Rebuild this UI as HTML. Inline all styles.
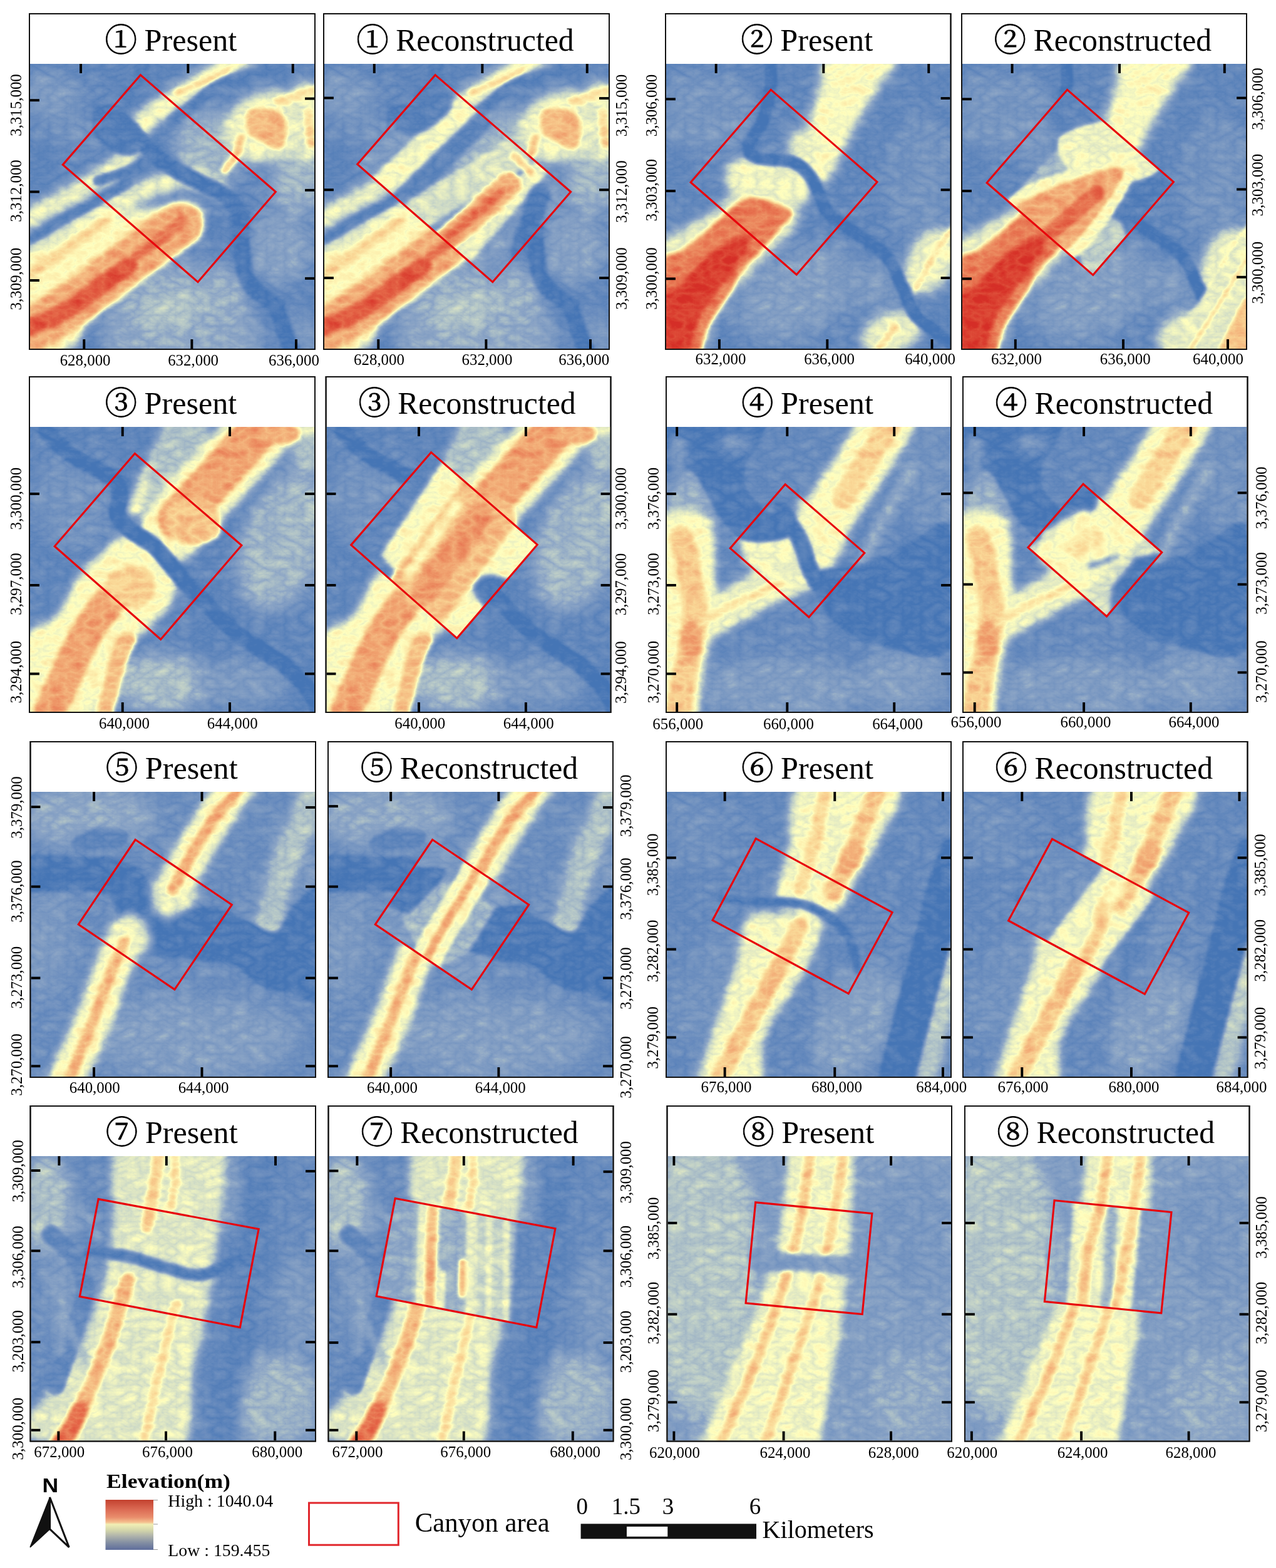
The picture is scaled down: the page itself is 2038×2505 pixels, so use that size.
<!DOCTYPE html><html><head><meta charset="utf-8"><title>Present vs Reconstructed DEM</title><style>html,body{margin:0;padding:0;background:#fff}svg{display:block}</style></head><body><svg xmlns="http://www.w3.org/2000/svg" width="2038" height="2505" viewBox="0 0 2038 2505"><defs><filter id="ramp" filterUnits="userSpaceOnUse" x="0" y="0" width="1736" height="1736" color-interpolation-filters="sRGB"><feTurbulence type="turbulence" baseFrequency="0.009 0.015" numOctaves="4" seed="3" result="t"/><feColorMatrix in="t" type="matrix" values="1 0 0 0 0  1 0 0 0 0  1 0 0 0 0  0 0 0 0 1" result="n"/><feComposite in="SourceGraphic" in2="n" operator="arithmetic" k1="0" k2="1" k3="0.16" k4="-0.0504" result="s"/><feComponentTransfer in="s"><feFuncR type="table" tableValues="0.271 0.412 0.549 0.765 1.000 0.980 0.941 0.894 0.839"/><feFuncG type="table" tableValues="0.459 0.549 0.647 0.824 1.000 0.843 0.627 0.392 0.184"/><feFuncB type="table" tableValues="0.710 0.745 0.776 0.784 0.749 0.588 0.431 0.275 0.153"/></feComponentTransfer></filter><filter id="b8" filterUnits="userSpaceOnUse" x="-700" y="-700" width="3136" height="3136" color-interpolation-filters="sRGB"><feGaussianBlur stdDeviation="8"/></filter><filter id="b10" filterUnits="userSpaceOnUse" x="-700" y="-700" width="3136" height="3136" color-interpolation-filters="sRGB"><feGaussianBlur stdDeviation="10"/></filter><filter id="b12" filterUnits="userSpaceOnUse" x="-700" y="-700" width="3136" height="3136" color-interpolation-filters="sRGB"><feGaussianBlur stdDeviation="12"/></filter><filter id="b14" filterUnits="userSpaceOnUse" x="-700" y="-700" width="3136" height="3136" color-interpolation-filters="sRGB"><feGaussianBlur stdDeviation="14"/></filter><filter id="b15" filterUnits="userSpaceOnUse" x="-700" y="-700" width="3136" height="3136" color-interpolation-filters="sRGB"><feGaussianBlur stdDeviation="15"/></filter><filter id="b18" filterUnits="userSpaceOnUse" x="-700" y="-700" width="3136" height="3136" color-interpolation-filters="sRGB"><feGaussianBlur stdDeviation="18"/></filter><filter id="b20" filterUnits="userSpaceOnUse" x="-700" y="-700" width="3136" height="3136" color-interpolation-filters="sRGB"><feGaussianBlur stdDeviation="20"/></filter><filter id="b22" filterUnits="userSpaceOnUse" x="-700" y="-700" width="3136" height="3136" color-interpolation-filters="sRGB"><feGaussianBlur stdDeviation="22"/></filter><filter id="b25" filterUnits="userSpaceOnUse" x="-700" y="-700" width="3136" height="3136" color-interpolation-filters="sRGB"><feGaussianBlur stdDeviation="25"/></filter><filter id="b30" filterUnits="userSpaceOnUse" x="-700" y="-700" width="3136" height="3136" color-interpolation-filters="sRGB"><feGaussianBlur stdDeviation="30"/></filter><filter id="b50" filterUnits="userSpaceOnUse" x="-700" y="-700" width="3136" height="3136" color-interpolation-filters="sRGB"><feGaussianBlur stdDeviation="50"/></filter><g id="m0"><g><rect x="-100" y="-100" width="1936" height="1936" fill="#1a1a1a"/></g><g filter="url(#b50)"><ellipse cx="120" cy="200" rx="220" ry="150" fill="#333333"/><ellipse cx="300" cy="420" rx="200" ry="120" fill="#292929"/><ellipse cx="1100" cy="500" rx="230" ry="230" fill="#4c4c4c"/><path d="M560 1300 C643 1200 885 1208 1000 1200 C1115 1192 1192 1200 1250 1250 C1308 1300 1333 1408 1350 1500 C1367 1592 1492 1750 1350 1800 C1208 1850 632 1883 500 1800 C368 1717 477 1400 560 1300Z" fill="#424242"/><ellipse cx="850" cy="1500" rx="200" ry="120" fill="#575757" transform="rotate(-20 850 1500)"/><ellipse cx="1150" cy="1420" rx="150" ry="90" fill="#4c4c4c" transform="rotate(-20 1150 1420)"/><ellipse cx="1530" cy="1120" rx="190" ry="230" fill="#3d3d3d"/><ellipse cx="1650" cy="1650" rx="150" ry="150" fill="#333333"/><ellipse cx="1650" cy="700" rx="200" ry="200" fill="#4c4c4c"/></g><g filter="url(#b30)"><path d="M640 420 C653 405 682 362 720 330 C758 298 819 257 866 225 C913 193 953 169 1000 140 C1047 111 1100 80 1150 50 C1200 20 1275 -25 1300 -40" fill="none" stroke="#808080" stroke-width="130" stroke-linecap="round" stroke-linejoin="round"/><ellipse cx="1450" cy="380" rx="280" ry="220" fill="#757575" transform="rotate(-20 1450 380)"/><ellipse cx="1680" cy="350" rx="120" ry="260" fill="#707070"/><path d="M-40 960 C0 938 134 866 200 830 C266 794 300 776 356 742 C412 708 485 669 534 624 C583 579 631 496 650 470" fill="none" stroke="#787878" stroke-width="130" stroke-linecap="round" stroke-linejoin="round"/><path d="M-40 1200 C8 1170 160 1075 250 1020 C340 965 408 918 500 870 C592 822 717 758 800 730 C883 702 942 695 1000 700 C1058 705 1125 750 1150 760" fill="none" stroke="#757575" stroke-width="130" stroke-linecap="round" stroke-linejoin="round"/><path d="M-60 1230 C-17 1113 111 1147 200 1100 C289 1053 392 987 475 950 C558 913 629 895 700 880 C771 865 842 860 900 860 C958 860 1033 848 1050 880 C1067 912 1042 1005 1000 1050 C958 1095 867 1108 800 1150 C733 1192 667 1245 600 1300 C533 1355 458 1407 400 1480 C342 1553 327 1683 250 1736 C173 1789 -8 1884 -60 1800 C-112 1716 -103 1347 -60 1230Z" fill="#858585"/></g><g filter="url(#b18)"><path d="M-60 1660 C-15 1633 124 1555 208 1500 C292 1445 371 1385 445 1330 C519 1275 589 1218 653 1170 C717 1122 786 1072 831 1040 C876 1008 905 990 920 980" fill="none" stroke="#b8b8b8" stroke-width="280" stroke-linecap="round" stroke-linejoin="round"/><path d="M0 1276 C33 1253 121 1194 200 1140 C279 1086 429 982 475 950" fill="none" stroke="#a3a3a3" stroke-width="60" stroke-linecap="round" stroke-linejoin="round"/></g><g filter="url(#b12)"><path d="M-40 1620 C1 1602 127 1556 208 1510 C289 1464 380 1392 445 1345 C510 1298 574 1249 600 1230" fill="none" stroke="#e6e6e6" stroke-width="110" stroke-linecap="round" stroke-linejoin="round"/><path d="M650 1170 C680 1148 783 1077 830 1040 C877 1003 913 965 930 950" fill="none" stroke="#d6d6d6" stroke-width="70" stroke-linecap="round" stroke-linejoin="round"/><path d="M1330 290 C1350 265 1412 263 1450 270 C1488 277 1542 297 1560 330 C1578 363 1570 438 1560 470 C1550 502 1523 518 1500 520 C1477 522 1448 497 1420 480 C1392 463 1345 452 1330 420 C1315 388 1310 315 1330 290Z" fill="#b2b2b2"/><path d="M1290 450 C1285 467 1277 517 1260 550 C1243 583 1202 633 1190 650" fill="none" stroke="#a8a8a8" stroke-width="50" stroke-linecap="round" stroke-linejoin="round"/><path d="M900 180 C925 168 1000 133 1050 110 C1100 87 1175 52 1200 40" fill="none" stroke="#999999" stroke-width="40" stroke-linecap="round" stroke-linejoin="round"/><path d="M1520 230 L1736 160" fill="none" stroke="#999999" stroke-width="60" stroke-linecap="round" stroke-linejoin="round"/><path d="M1700 300 L1720 480" fill="none" stroke="#9e9e9e" stroke-width="60" stroke-linecap="round" stroke-linejoin="round"/></g><g filter="url(#b10)"><path d="M470 300 C488 313 545 352 580 380 C615 408 647 438 680 470 C713 502 747 542 780 570 C813 598 835 613 880 640 C925 667 997 702 1050 730 C1103 758 1162 778 1200 810 C1238 842 1265 872 1280 920 C1295 968 1283 1037 1290 1100 C1297 1163 1302 1250 1320 1300 C1338 1350 1370 1370 1400 1400 C1430 1430 1473 1438 1500 1480 C1527 1522 1540 1597 1560 1650 C1580 1703 1610 1775 1620 1800" fill="none" stroke="#080808" stroke-width="100" stroke-linecap="round" stroke-linejoin="round"/><path d="M430 250 C473 245 595 312 640 350 C685 388 707 445 700 480 C693 515 642 557 600 560 C558 563 487 530 450 500 C413 470 383 422 380 380 C377 338 387 255 430 250Z" fill="#0f0f0f"/><path d="M0 1069 C33 1049 131 990 200 950 C269 910 348 869 415 831 C482 793 569 738 600 720" fill="none" stroke="#141414" stroke-width="60" stroke-linecap="round" stroke-linejoin="round"/><path d="M415 713 C445 703 546 673 593 654 C640 635 682 609 700 600" fill="none" stroke="#121212" stroke-width="60" stroke-linecap="round" stroke-linejoin="round"/><path d="M866 350 C888 333 950 288 1000 250 C1050 212 1097 158 1166 125 C1235 92 1360 68 1416 50 C1472 32 1486 25 1500 20" fill="none" stroke="#141414" stroke-width="70" stroke-linecap="round" stroke-linejoin="round"/><path d="M700 0 C692 17 667 67 650 100 C633 133 608 183 600 200" fill="none" stroke="#121212" stroke-width="70" stroke-linecap="round" stroke-linejoin="round"/></g></g><g id="m0r"><g><rect x="-100" y="-100" width="1936" height="1936" fill="#333333"/></g><g filter="url(#b20)"><ellipse cx="1000" cy="500" rx="250" ry="150" fill="#4c4c4c" transform="rotate(-40 1000 500)"/></g><g filter="url(#b12)"><path d="M870 250 C864 257 914 213 832 291 C750 369 470 634 381 719 C292 804 314 786 300 800" fill="none" stroke="#7a7a7a" stroke-width="160" stroke-linecap="round" stroke-linejoin="round"/><path d="M1000 320 C992 327 1038 280 951 363 C864 446 568 732 476 821 C384 910 413 887 400 900" fill="none" stroke="#171717" stroke-width="120" stroke-linecap="round" stroke-linejoin="round"/><path d="M1160 540 C1152 547 1203 524 1109 584 C1015 644 696 831 595 900 C494 969 516 983 500 1000" fill="none" stroke="#6b6b6b" stroke-width="200" stroke-linecap="round" stroke-linejoin="round"/><path d="M1350 600 C1342 608 1378 560 1300 650 C1222 740 960 1048 880 1140 C800 1232 830 1190 820 1200" fill="none" stroke="#757575" stroke-width="110" stroke-linecap="round" stroke-linejoin="round"/><path d="M1120 740 C1115 745 1153 713 1090 770 C1027 827 808 1020 740 1080 C672 1140 690 1122 680 1130" fill="none" stroke="#b8b8b8" stroke-width="150" stroke-linecap="round" stroke-linejoin="round"/><path d="M1070 790 L760 1060" fill="none" stroke="#dbdbdb" stroke-width="60" stroke-linecap="round" stroke-linejoin="round"/><path d="M1320 800 C1317 805 1315 788 1300 830 C1285 872 1247 997 1230 1050 C1213 1103 1205 1133 1200 1150" fill="none" stroke="#0a0a0a" stroke-width="130" stroke-linecap="round" stroke-linejoin="round"/><path d="M1160 560 L1260 660" fill="none" stroke="#a3a3a3" stroke-width="50" stroke-linecap="round" stroke-linejoin="round"/><path d="M640 60 C703 47 793 188 780 250 C767 312 623 417 560 430 C497 443 387 392 400 330 C413 268 577 73 640 60Z" fill="#141414"/></g></g><g id="m1"><g><rect x="-100" y="-100" width="1936" height="1936" fill="#1c1c1c"/></g><g filter="url(#b50)"><ellipse cx="250" cy="300" rx="300" ry="250" fill="#2e2e2e"/><ellipse cx="1550" cy="700" rx="200" ry="400" fill="#2b2b2b"/><ellipse cx="800" cy="1400" rx="400" ry="250" fill="#383838" transform="rotate(-30 800 1400)"/><ellipse cx="1250" cy="1350" rx="200" ry="150" fill="#333333"/></g><g filter="url(#b30)"><path d="M993 -50 C1071 -83 1349 -83 1400 -50 C1451 -17 1342 75 1300 150 C1258 225 1192 325 1150 400 C1108 475 1082 543 1050 600 C1018 657 988 732 960 740 C932 748 897 707 880 650 C863 593 852 483 860 400 C868 317 908 225 930 150 C952 75 915 -17 993 -50Z" fill="#808080"/><path d="M760 420 C783 390 867 390 900 420 C933 450 963 553 960 600 C957 647 913 700 880 700 C847 700 780 647 760 600 C740 553 737 450 760 420Z" fill="#787878"/><path d="M388 600 C432 560 573 545 650 560 C727 575 812 647 850 690 C888 733 895 785 880 820 C865 855 815 890 760 900 C705 910 612 897 550 880 C488 863 415 847 388 800 C361 753 344 640 388 600Z" fill="#787878"/><path d="M-50 1150 C-25 1017 45 1042 100 1000 C155 958 222 933 278 900 C334 867 351 807 433 800 C515 793 708 830 769 860 C830 890 820 932 800 980 C780 1028 708 1088 650 1150 C592 1212 508 1283 450 1350 C392 1417 345 1475 300 1550 C255 1625 238 1758 180 1800 C122 1842 -12 1908 -50 1800 C-88 1692 -75 1283 -50 1150Z" fill="#737373"/><ellipse cx="1620" cy="1200" rx="150" ry="220" fill="#757575" transform="rotate(30 1620 1200)"/><ellipse cx="1380" cy="1640" rx="200" ry="130" fill="#757575" transform="rotate(-20 1380 1640)"/></g><g filter="url(#b15)"><path d="M-50 1250 C-25 1138 45 1173 100 1130 C155 1087 222 1037 278 990 C334 943 385 878 433 850 C481 822 512 812 568 820 C624 828 747 870 769 900 C791 930 728 963 700 1000 C672 1037 638 1077 600 1120 C562 1163 505 1213 470 1260 C435 1307 423 1343 388 1400 C353 1457 295 1533 260 1600 C225 1667 232 1767 180 1800 C128 1833 -12 1892 -50 1800 C-88 1708 -75 1362 -50 1250Z" fill="#d1d1d1"/><path d="M-50 1450 C-25 1372 50 1377 100 1330 C150 1283 195 1215 250 1170 C305 1125 385 1078 430 1060 C475 1042 522 1028 520 1060 C518 1092 457 1193 420 1250 C383 1307 337 1348 300 1400 C263 1452 233 1493 200 1560 C167 1627 142 1760 100 1800 C58 1840 -25 1858 -50 1800 C-75 1742 -75 1528 -50 1450Z" fill="#f7f7f7"/><path d="M1520 1380 C1542 1342 1612 1213 1650 1150 C1688 1087 1733 1025 1750 1000" fill="none" stroke="#9e9e9e" stroke-width="30" stroke-linecap="round" stroke-linejoin="round"/><path d="M1300 1736 L1400 1600" fill="none" stroke="#9e9e9e" stroke-width="40" stroke-linecap="round" stroke-linejoin="round"/></g><g filter="url(#b8)"><path d="M640 -20 C640 0 641 70 640 100 C639 130 643 118 635 159 C627 200 612 291 590 349 C568 407 504 468 500 506 C496 544 523 559 568 574 C613 589 717 577 769 596 C821 615 851 648 881 686 C911 724 929 784 948 821 C967 858 956 873 993 910 C1030 947 1112 999 1172 1044 C1232 1089 1306 1126 1351 1178 C1396 1230 1411 1298 1441 1358 C1471 1418 1482 1481 1530 1537 C1578 1593 1687 1657 1732 1694 C1777 1731 1789 1749 1800 1760" fill="none" stroke="#050505" stroke-width="75" stroke-linecap="round" stroke-linejoin="round"/></g></g><g id="m1r"><g><rect x="-100" y="-100" width="1936" height="1936" fill="#1a1a1a"/></g><g filter="url(#b30)"><ellipse cx="420" cy="450" rx="150" ry="200" fill="#2e2e2e" transform="rotate(-40 420 450)"/></g><g filter="url(#b10)"><path d="M640 455 L320 790 L430 930 L820 700Z" fill="#4c4c4c"/><path d="M600 440 C667 375 1017 300 1120 330 C1223 360 1240 553 1220 620 C1200 687 1083 713 1000 730 C917 747 787 768 720 720 C653 672 533 505 600 440Z" fill="#787878"/><path d="M700 1040 C725 978 897 920 950 950 C1003 980 1045 1158 1020 1220 C995 1282 853 1350 800 1320 C747 1290 675 1102 700 1040Z" fill="#5c5c5c"/><path d="M360 760 C468 693 783 607 900 590 C1017 573 1077 578 1060 660 C1043 742 883 987 800 1080 C717 1173 652 1235 560 1220 C468 1205 283 1067 250 990 C217 913 252 827 360 760Z" fill="#808080"/><path d="M409 816 C508 763 776 666 872 644 C968 622 1005 618 984 681 C963 744 816 947 745 1025 C674 1103 638 1161 560 1150 C482 1139 305 1016 280 960 C255 904 310 869 409 816Z" fill="#b8b8b8"/><path d="M470 1090 L820 790" fill="none" stroke="#dbdbdb" stroke-width="100" stroke-linecap="round" stroke-linejoin="round"/><path d="M1036 778 L954 943 L1200 1020 L1330 730 L1150 690Z" fill="#0f0f0f"/></g></g><g id="m2"><g><rect x="-100" y="-100" width="1936" height="1936" fill="#1a1a1a"/></g><g filter="url(#b50)"><ellipse cx="1550" cy="700" rx="260" ry="450" fill="#4c4c4c" transform="rotate(20 1550 700)"/><ellipse cx="250" cy="450" rx="250" ry="300" fill="#2b2b2b"/><ellipse cx="800" cy="1560" rx="320" ry="180" fill="#525252"/><ellipse cx="1300" cy="1560" rx="300" ry="150" fill="#333333"/><ellipse cx="1690" cy="120" rx="120" ry="150" fill="#595959"/></g><g filter="url(#b25)"><path d="M640 500 C650 475 677 403 700 350 C723 297 752 242 780 180 C808 118 855 13 870 -20" fill="none" stroke="#808080" stroke-width="90" stroke-linecap="round" stroke-linejoin="round"/><path d="M700 420 C700 330 783 53 850 -20 C917 -93 1083 -82 1100 -20 C1117 42 992 260 950 350 C908 440 892 508 850 520 C808 532 700 510 700 420Z" fill="#545454"/><path d="M870 620 C902 583 988 480 1060 400 C1132 320 1233 217 1300 140 C1367 63 1433 -27 1460 -60" fill="none" stroke="#808080" stroke-width="400" stroke-linecap="round" stroke-linejoin="round"/><path d="M1450 -40 L1750 -40" fill="none" stroke="#737373" stroke-width="200" stroke-linecap="round" stroke-linejoin="round"/><path d="M-50 1300 C-17 1192 92 1217 150 1150 C208 1083 250 967 300 900 C350 833 400 792 450 750 C500 708 542 645 600 650 C658 655 750 730 800 780 C850 830 892 897 900 950 C908 1003 883 1050 850 1100 C817 1150 750 1200 700 1250 C650 1300 592 1342 550 1400 C508 1458 483 1533 450 1600 C417 1667 433 1767 350 1800 C267 1833 17 1883 -50 1800 C-117 1717 -83 1408 -50 1300Z" fill="#808080"/></g><g filter="url(#b15)"><path d="M900 560 C928 530 1005 450 1070 380 C1135 310 1228 208 1290 140 C1352 72 1415 -2 1440 -30" fill="none" stroke="#bdbdbd" stroke-width="250" stroke-linecap="round" stroke-linejoin="round"/><ellipse cx="1520" cy="40" rx="130" ry="70" fill="#b8b8b8"/><path d="M860 470 C900 437 1050 430 1100 460 C1150 490 1177 607 1160 650 C1143 693 1050 718 1000 720 C950 722 883 702 860 660 C837 618 820 503 860 470Z" fill="#a8a8a8"/><path d="M120 1736 C142 1688 212 1531 250 1450 C288 1369 313 1312 350 1250 C387 1188 450 1108 470 1080" fill="none" stroke="#bdbdbd" stroke-width="200" stroke-linecap="round" stroke-linejoin="round"/><path d="M440 1800 C455 1742 505 1533 530 1450 C555 1367 580 1325 590 1300" fill="none" stroke="#adadad" stroke-width="110" stroke-linecap="round" stroke-linejoin="round"/><path d="M480 900 C513 865 653 833 700 850 C747 867 767 957 760 1000 C753 1043 703 1100 660 1110 C617 1120 530 1095 500 1060 C470 1025 447 935 480 900Z" fill="#a3a3a3"/></g><g filter="url(#b8)"><path d="M100 30 C125 53 200 133 250 170 C300 207 355 223 400 250 C445 277 495 302 520 330 C545 358 548 388 550 420 C552 452 522 487 530 520 C538 553 563 587 600 620 C637 653 708 685 750 720 C792 755 817 792 850 830 C883 868 917 913 950 950 C983 987 1017 1017 1050 1050 C1083 1083 1117 1117 1150 1150 C1183 1183 1208 1217 1250 1250 C1292 1283 1350 1317 1400 1350 C1450 1383 1500 1408 1550 1450 C1600 1492 1665 1555 1700 1600 C1735 1645 1750 1700 1760 1720" fill="none" stroke="#050505" stroke-width="100" stroke-linecap="round" stroke-linejoin="round"/></g></g><g id="m2r"><g><rect x="-100" y="-100" width="1936" height="1936" fill="#1a1a1a"/></g><g filter="url(#b15)"><path d="M740 160 L1320 700 L800 1320 L330 780Z" fill="#808080"/><path d="M560 1050 L990 470" fill="none" stroke="#adadad" stroke-width="420" stroke-linecap="round" stroke-linejoin="round"/><path d="M600 1000 L940 540" fill="none" stroke="#c2c2c2" stroke-width="160" stroke-linecap="round" stroke-linejoin="round"/><path d="M500 900 L800 470" fill="none" stroke="#858585" stroke-width="60" stroke-linecap="round" stroke-linejoin="round"/><path d="M900 1000 C892 958 950 900 1000 900 C1050 900 1192 958 1200 1000 C1208 1042 1100 1150 1050 1150 C1000 1150 908 1042 900 1000Z" fill="#0d0d0d"/></g></g><g id="m3"><g><rect x="-100" y="-100" width="1936" height="1936" fill="#1f1f1f"/></g><g filter="url(#b50)"><ellipse cx="1600" cy="300" rx="200" ry="350" fill="#2b2b2b"/><ellipse cx="700" cy="1600" rx="500" ry="200" fill="#363636"/><ellipse cx="1450" cy="1550" rx="280" ry="200" fill="#383838"/><ellipse cx="150" cy="500" rx="150" ry="250" fill="#474747"/></g><g filter="url(#b25)"><path d="M840 760 C867 720 940 610 1000 520 C1060 430 1140 313 1200 220 C1260 127 1333 3 1360 -40" fill="none" stroke="#808080" stroke-width="330" stroke-linecap="round" stroke-linejoin="round"/><path d="M450 650 C483 612 642 612 700 620 C758 628 775 653 800 700 C825 747 850 850 850 900 C850 950 833 992 800 1000 C767 1008 700 975 650 950 C600 925 533 900 500 850 C467 800 417 688 450 650Z" fill="#7a7a7a"/><path d="M800 450 C817 417 900 467 950 500 C1000 533 1083 600 1100 650 C1117 700 1075 767 1050 800 C1025 833 983 867 950 850 C917 833 875 767 850 700 C825 633 783 483 800 450Z" fill="#808080"/><path d="M-50 550 C0 442 192 508 250 550 C308 592 300 725 300 800 C300 875 275 933 250 1000 C225 1067 200 1167 150 1200 C100 1233 -17 1308 -50 1200 C-83 1092 -100 658 -50 550Z" fill="#6b6b6b"/><path d="M150 1250 C183 1228 283 1160 350 1120 C417 1080 483 1043 550 1010 C617 977 692 943 750 920 C808 897 875 878 900 870" fill="none" stroke="#787878" stroke-width="230" stroke-linecap="round" stroke-linejoin="round"/><path d="M40 1800 C47 1750 65 1600 80 1500 C95 1400 118 1300 130 1200 C142 1100 152 992 150 900 C148 808 125 692 120 650" fill="none" stroke="#808080" stroke-width="300" stroke-linecap="round" stroke-linejoin="round"/><path d="M-50 650 C-17 562 98 612 150 620 C202 628 242 637 260 700 C278 763 265 925 255 1000 C245 1075 251 1125 200 1150 C149 1175 -8 1233 -50 1150 C-92 1067 -83 738 -50 650Z" fill="#808080"/><path d="M1124 993 C1145 944 1205 793 1250 700 C1295 607 1350 508 1392 433 C1434 358 1482 280 1500 250" fill="none" stroke="#4c4c4c" stroke-width="60" stroke-linecap="round" stroke-linejoin="round"/></g><g filter="url(#b15)"><path d="M1080 430 C1105 392 1182 275 1230 200 C1278 125 1347 17 1370 -20" fill="none" stroke="#a1a1a1" stroke-width="140" stroke-linecap="round" stroke-linejoin="round"/><path d="M60 1760 C68 1717 95 1577 110 1500 C125 1423 140 1367 150 1300 C160 1233 173 1175 170 1100 C167 1025 143 920 130 850 C117 780 97 708 90 680" fill="none" stroke="#a8a8a8" stroke-width="150" stroke-linecap="round" stroke-linejoin="round"/><ellipse cx="150" cy="1300" rx="70" ry="120" fill="#bdbdbd"/><path d="M200 1200 C225 1185 300 1137 350 1110 C400 1083 442 1067 500 1040 C558 1013 667 965 700 950" fill="none" stroke="#999999" stroke-width="45" stroke-linecap="round" stroke-linejoin="round"/></g><g filter="url(#b10)"><path d="M-50 -50 C52 -102 458 -75 560 -50 C662 -25 573 50 560 100 C547 150 490 200 480 250 C470 300 477 355 500 400 C523 445 577 493 620 520 C663 547 737 537 760 560 C783 583 787 637 760 660 C733 683 652 697 600 700 C548 703 495 703 450 680 C405 657 363 603 330 560 C297 517 275 463 250 420 C225 377 205 328 180 300 C155 272 138 257 100 250 C62 243 -25 310 -50 260 C-75 210 -152 2 -50 -50Z" fill="#080808"/><path d="M700 500 C710 517 740 567 760 600 C780 633 802 658 820 700 C838 742 853 808 870 850 C887 892 898 917 920 950 C942 983 987 1033 1000 1050" fill="none" stroke="#080808" stroke-width="100" stroke-linecap="round" stroke-linejoin="round"/><path d="M900 900 C925 858 1033 867 1100 850 C1167 833 1233 825 1300 800 C1367 775 1427 730 1500 700 C1573 670 1697 512 1736 620 C1775 728 1809 1232 1736 1350 C1663 1468 1406 1347 1300 1330 C1194 1313 1158 1288 1100 1250 C1042 1212 983 1158 950 1100 C917 1042 875 942 900 900Z" fill="#080808"/></g><g filter="url(#b30)"><ellipse cx="70" cy="170" rx="60" ry="110" fill="#333333"/><ellipse cx="420" cy="100" rx="120" ry="60" fill="#2b2b2b"/></g></g><g id="m3r"><g><rect x="-100" y="-100" width="1936" height="1936" fill="#6b6b6b"/></g><g filter="url(#b14)"><path d="M450 1000 L1050 480" fill="none" stroke="#808080" stroke-width="380" stroke-linecap="round" stroke-linejoin="round"/><ellipse cx="740" cy="700" rx="130" ry="70" fill="#949494" transform="rotate(-35 740 700)"/><path d="M725 330 C800 277 809 390 820 420 C831 450 810 495 790 510 C770 525 748 490 700 510 C652 530 538 602 500 630 C462 658 491 657 469 675 C447 693 327 798 370 740 C413 682 650 383 725 330Z" fill="#080808"/><path d="M909 983 L1052 800 L1260 760 L1100 1000 L900 1220Z" fill="#080808"/><path d="M777 846 L938 795" fill="none" stroke="#2e2e2e" stroke-width="30" stroke-linecap="round" stroke-linejoin="round"/></g></g><g id="m4"><g><rect x="-100" y="-100" width="1936" height="1936" fill="#242424"/></g><g filter="url(#b50)"><ellipse cx="350" cy="150" rx="420" ry="200" fill="#424242"/><ellipse cx="100" cy="900" rx="150" ry="350" fill="#333333"/><ellipse cx="1000" cy="1500" rx="650" ry="250" fill="#383838"/><ellipse cx="1600" cy="350" rx="150" ry="250" fill="#333333"/></g><g filter="url(#b25)"><path d="M1420 980 C1436 909 1476 680 1514 553 C1552 426 1615 309 1649 217 C1683 125 1708 36 1720 0" fill="none" stroke="#575757" stroke-width="170" stroke-linecap="round" stroke-linejoin="round"/></g><g filter="url(#b10)"><path d="M-50 400 C8 366 211 396 300 396 C389 396 424 388 484 400 C544 412 624 443 663 470 C702 497 697 523 720 560 C743 597 770 663 800 690 C830 717 858 718 900 720 C942 722 1000 698 1050 700 C1100 702 1150 713 1200 730 C1250 747 1300 780 1350 800 C1400 820 1458 867 1500 850 C1542 833 1561 745 1600 700 C1639 655 1703 597 1736 580 C1769 563 1789 488 1800 600 C1811 712 1833 1145 1800 1250 C1767 1355 1667 1242 1600 1230 C1533 1218 1458 1208 1400 1180 C1342 1152 1308 1085 1250 1060 C1192 1035 1125 1040 1050 1030 C975 1020 867 1013 800 1000 C733 987 690 973 650 950 C610 927 582 895 560 860 C538 825 533 775 520 740 C507 705 520 673 484 650 C448 627 394 608 305 600 C216 592 9 633 -50 600 C-109 567 -108 434 -50 400Z" fill="#080808"/><ellipse cx="420" cy="300" rx="180" ry="80" fill="#1a1a1a" transform="rotate(-10 420 300)"/></g><g filter="url(#b25)"><path d="M200 1800 C232 1727 347 1474 394 1360 C441 1246 454 1188 484 1113 C514 1038 554 954 573 912 C592 870 596 869 600 860" fill="none" stroke="#808080" stroke-width="230" stroke-linecap="round" stroke-linejoin="round"/><ellipse cx="620" cy="900" rx="120" ry="100" fill="#737373"/><path d="M850 640 C852 633 843 639 864 598 C885 557 935 467 976 396 C1017 325 1064 246 1111 172 C1158 98 1235 -13 1260 -50" fill="none" stroke="#808080" stroke-width="230" stroke-linecap="round" stroke-linejoin="round"/><ellipse cx="880" cy="650" rx="150" ry="100" fill="#737373" transform="rotate(-30 880 650)"/></g><g filter="url(#b12)"><path d="M220 1780 C249 1710 350 1471 394 1360 C438 1249 454 1188 484 1113 C514 1038 558 946 573 912" fill="none" stroke="#b2b2b2" stroke-width="70" stroke-linecap="round" stroke-linejoin="round"/><path d="M864 598 C883 564 935 467 976 396 C1017 325 1066 236 1111 172 C1156 108 1220 49 1245 15 C1270 -19 1258 -22 1260 -30" fill="none" stroke="#b8b8b8" stroke-width="70" stroke-linecap="round" stroke-linejoin="round"/></g></g><g id="m4r"><g><rect x="-100" y="-100" width="1936" height="1936" fill="#333333"/></g><g filter="url(#b10)"><path d="M440 760 L686 548 L1024 702 L858 979 L620 1100Z" fill="#4c4c4c"/><path d="M400 440 L720 470 L686 548 L489 745 L360 700Z" fill="#0a0a0a"/><path d="M1024 702 L1260 680 L1200 1040 L858 979Z" fill="#0a0a0a"/><path d="M540 1200 C553 1163 594 1036 618 979 C642 922 659 902 686 856 C713 810 747 753 778 702 C809 651 845 594 871 548 C897 502 910 466 932 425 C954 384 989 321 1000 300" fill="none" stroke="#808080" stroke-width="190" stroke-linecap="round" stroke-linejoin="round"/><path d="M560 1150 C570 1122 597 1028 618 979 C639 930 659 902 686 856 C713 810 747 753 778 702 C809 651 845 594 871 548 C897 502 912 465 932 425 C952 385 980 329 990 310" fill="none" stroke="#b8b8b8" stroke-width="55" stroke-linecap="round" stroke-linejoin="round"/></g></g><g id="m5"><g><rect x="-100" y="-100" width="1936" height="1936" fill="#1f1f1f"/></g><g filter="url(#b50)"><ellipse cx="200" cy="250" rx="200" ry="200" fill="#292929"/><ellipse cx="1650" cy="1350" rx="150" ry="450" fill="#383838" transform="rotate(15 1650 1350)"/><ellipse cx="1150" cy="1400" rx="230" ry="380" fill="#3b3b3b" transform="rotate(25 1150 1400)"/><ellipse cx="250" cy="1200" rx="200" ry="400" fill="#2b2b2b" transform="rotate(25 250 1200)"/></g><g filter="url(#b25)"><path d="M820 -50 C933 -117 1340 -108 1420 -50 C1500 8 1345 198 1300 300 C1255 402 1187 493 1150 560 C1113 627 1112 667 1079 700 C1046 733 1013 760 950 760 C887 760 748 723 700 700 C652 677 653 678 660 620 C667 562 713 462 740 350 C767 238 707 17 820 -50Z" fill="#7a7a7a"/><path d="M497 760 C544 708 625 737 700 740 C775 743 912 734 945 777 C978 820 932 921 900 1000 C868 1079 800 1167 750 1250 C700 1333 631 1408 600 1500 C569 1592 631 1750 564 1800 C497 1850 244 1867 200 1800 C156 1733 263 1525 300 1400 C337 1275 387 1157 420 1050 C453 943 450 812 497 760Z" fill="#7a7a7a"/><path d="M1580 1800 C1597 1725 1647 1483 1680 1350 C1713 1217 1763 1058 1780 1000" fill="none" stroke="#5c5c5c" stroke-width="130" stroke-linecap="round" stroke-linejoin="round"/></g><g filter="url(#b14)"><path d="M1300 -30 C1286 4 1242 101 1213 172 C1184 243 1158 321 1124 396 C1090 471 1031 583 1012 620" fill="none" stroke="#a8a8a8" stroke-width="110" stroke-linecap="round" stroke-linejoin="round"/><ellipse cx="1124" cy="400" rx="70" ry="110" fill="#b8b8b8" transform="rotate(25 1124 400)"/><path d="M990 -30 C986 -22 982 -45 967 15 C952 75 926 232 900 329 C874 426 825 553 810 598" fill="none" stroke="#9e9e9e" stroke-width="80" stroke-linecap="round" stroke-linejoin="round"/><path d="M810 822 C788 867 721 1004 676 1090 C631 1176 590 1247 541 1337 C492 1427 425 1551 385 1628 C345 1705 314 1771 300 1800" fill="none" stroke="#a8a8a8" stroke-width="110" stroke-linecap="round" stroke-linejoin="round"/><ellipse cx="640" cy="1150" rx="60" ry="130" fill="#b2b2b2" transform="rotate(25 640 1150)"/></g><g filter="url(#b10)"><path d="M1390 1800 C1425 1667 1548 1201 1600 1001 C1652 801 1670 704 1700 600 C1730 496 1767 417 1780 380" fill="none" stroke="#050505" stroke-width="220" stroke-linecap="round" stroke-linejoin="round"/><path d="M340 642 C377 646 482 658 564 665 C646 672 758 668 833 687 C908 706 964 740 1012 777 C1060 814 1098 859 1124 911 C1150 963 1162 1060 1169 1090" fill="none" stroke="#0a0a0a" stroke-width="55" stroke-linecap="round" stroke-linejoin="round"/></g></g><g id="m5r"><g><rect x="-100" y="-100" width="1936" height="1936" fill="#292929"/></g><g filter="url(#b25)"><path d="M1100 650 L1000 1100" fill="none" stroke="#1a1a1a" stroke-width="150" stroke-linecap="round" stroke-linejoin="round"/></g><g filter="url(#b14)"><path d="M560 1180 C583 1143 652 1030 700 960 C748 890 800 827 850 760 C900 693 955 637 1000 560 C1045 483 1100 343 1120 300" fill="none" stroke="#7a7a7a" stroke-width="360" stroke-linecap="round" stroke-linejoin="round"/><path d="M1130 290 C1127 298 1127 286 1110 335 C1093 384 1051 523 1026 586 C1001 649 970 690 959 711" fill="none" stroke="#a3a3a3" stroke-width="80" stroke-linecap="round" stroke-linejoin="round"/><path d="M860 790 C856 798 852 800 834 836 C816 872 783 947 750 1003 C717 1059 653 1142 634 1170" fill="none" stroke="#a8a8a8" stroke-width="80" stroke-linecap="round" stroke-linejoin="round"/><ellipse cx="880" cy="720" rx="60" ry="40" fill="#999999" transform="rotate(-50 880 720)"/><path d="M800 780 L900 560" fill="none" stroke="#949494" stroke-width="40" stroke-linecap="round" stroke-linejoin="round"/></g></g><g id="m6"><g><rect x="-100" y="-100" width="1936" height="1936" fill="#212121"/></g><g filter="url(#b50)"><ellipse cx="90" cy="300" rx="170" ry="320" fill="#525252"/><ellipse cx="1200" cy="250" rx="170" ry="220" fill="#383838"/><ellipse cx="1500" cy="1500" rx="280" ry="300" fill="#4c4c4c"/><ellipse cx="250" cy="900" rx="170" ry="320" fill="#333333"/><ellipse cx="1650" cy="900" rx="150" ry="300" fill="#333333"/></g><g filter="url(#b30)"><path d="M1420 -50 C1408 42 1370 325 1350 500 C1330 675 1325 850 1300 1000 C1275 1150 1228 1267 1200 1400 C1172 1533 1142 1733 1130 1800" fill="none" stroke="#171717" stroke-width="200" stroke-linecap="round" stroke-linejoin="round"/></g><g filter="url(#b25)"><path d="M-80 1650 C-91 1697 -126 1707 35 1732 C196 1757 726 1872 887 1800 C1048 1728 963 1472 1000 1300 C1037 1128 1078 984 1111 769 C1144 554 1184 146 1200 8 C1216 -130 1318 -49 1210 -60 C1102 -71 669 -137 551 -60 C433 17 519 262 500 400 C481 538 472 644 439 769 C406 894 356 1036 300 1150 C244 1264 163 1367 100 1450 C37 1533 -69 1603 -80 1650Z" fill="#707070"/></g><g filter="url(#b12)"><path d="M150 1800 C161 1785 178 1777 215 1710 C252 1643 326 1497 371 1396 C416 1295 449 1202 483 1105 C517 1008 555 872 573 814 C591 756 587 769 590 760" fill="none" stroke="#b2b2b2" stroke-width="90" stroke-linecap="round" stroke-linejoin="round"/><path d="M130 1800 C144 1785 187 1752 215 1710 C243 1668 286 1577 300 1550" fill="none" stroke="#d9d9d9" stroke-width="110" stroke-linecap="round" stroke-linejoin="round"/><path d="M780 -20 C779 -8 783 -5 775 52 C767 109 741 258 730 321 C719 384 712 414 708 433" fill="none" stroke="#a3a3a3" stroke-width="70" stroke-linecap="round" stroke-linejoin="round"/><path d="M880 -20 C880 8 883 97 880 150 C877 203 863 275 860 300" fill="none" stroke="#999999" stroke-width="50" stroke-linecap="round" stroke-linejoin="round"/><path d="M690 1740 C693 1728 690 1747 708 1665 C726 1583 770 1377 800 1250 C830 1123 872 962 887 904" fill="none" stroke="#999999" stroke-width="55" stroke-linecap="round" stroke-linejoin="round"/></g><g filter="url(#b10)"><path d="M349 590 C390 594 518 597 596 612 C674 627 745 661 820 680 C895 699 969 732 1044 724 C1119 716 1217 649 1268 635 C1319 621 1336 639 1350 640" fill="none" stroke="#0f0f0f" stroke-width="70" stroke-linecap="round" stroke-linejoin="round"/><path d="M120 480 C142 500 215 547 250 600 C285 653 330 717 330 800 C330 883 280 1000 250 1100 C220 1200 167 1350 150 1400" fill="none" stroke="#1a1a1a" stroke-width="110" stroke-linecap="round" stroke-linejoin="round"/></g><g filter="url(#b20)"><path d="M60 700 C83 733 180 817 200 900 C220 983 183 1150 180 1200" fill="none" stroke="#474747" stroke-width="40" stroke-linecap="round" stroke-linejoin="round"/><path d="M300 300 L420 500" fill="none" stroke="#424242" stroke-width="40" stroke-linecap="round" stroke-linejoin="round"/><path d="M220 1000 L330 1250" fill="none" stroke="#454545" stroke-width="40" stroke-linecap="round" stroke-linejoin="round"/></g></g><g id="m6r"><g><rect x="-100" y="-100" width="1936" height="1936" fill="#4c4c4c"/></g><g filter="url(#b10)"><path d="M420 200 L400 950" fill="none" stroke="#404040" stroke-width="200" stroke-linecap="round" stroke-linejoin="round"/><path d="M640 200 L615 1000" fill="none" stroke="#787878" stroke-width="180" stroke-linecap="round" stroke-linejoin="round"/><path d="M632 330 L615 900" fill="none" stroke="#adadad" stroke-width="60" stroke-linecap="round" stroke-linejoin="round"/><ellipse cx="622" cy="710" rx="30" ry="90" fill="#bdbdbd"/><path d="M740 350 L730 650" fill="none" stroke="#474747" stroke-width="120" stroke-linecap="round" stroke-linejoin="round"/><path d="M820 650 L815 840" fill="none" stroke="#a8a8a8" stroke-width="50" stroke-linecap="round" stroke-linejoin="round"/><path d="M880 300 L870 1000" fill="none" stroke="#757575" stroke-width="80" stroke-linecap="round" stroke-linejoin="round"/><path d="M1010 350 L1000 1050" fill="none" stroke="#616161" stroke-width="200" stroke-linecap="round" stroke-linejoin="round"/><path d="M985 350 L975 1050" fill="none" stroke="#757575" stroke-width="40" stroke-linecap="round" stroke-linejoin="round"/><path d="M1090 400 L1080 1050" fill="none" stroke="#737373" stroke-width="40" stroke-linecap="round" stroke-linejoin="round"/><path d="M1280 400 L1240 1100" fill="none" stroke="#1f1f1f" stroke-width="260" stroke-linecap="round" stroke-linejoin="round"/></g></g><g id="m7"><g><rect x="-100" y="-100" width="1936" height="1936" fill="#383838"/></g><g filter="url(#b50)"><ellipse cx="200" cy="700" rx="350" ry="900" fill="#575757"/><ellipse cx="1500" cy="1500" rx="250" ry="300" fill="#454545"/><ellipse cx="1500" cy="500" rx="250" ry="400" fill="#303030"/></g><g filter="url(#b22)"><path d="M150 1800 C28 1789 147 1848 200 1732 C253 1616 391 1303 469 1105 C547 907 625 728 670 545 C715 362 725 109 737 8 C749 -93 672 -49 740 -60 C808 -71 1078 -71 1145 -60 C1212 -49 1144 -93 1140 8 C1136 109 1133 362 1118 545 C1103 728 1081 907 1051 1105 C1021 1303 959 1616 939 1732 C919 1848 1062 1789 930 1800 C798 1811 272 1811 150 1800Z" fill="#787878"/></g><g filter="url(#b12)"><path d="M300 1800 C306 1789 291 1829 334 1732 C377 1635 494 1378 558 1217 C622 1056 674 900 715 769 C756 638 778 560 804 433 C830 306 859 87 872 8 C885 -71 879 -32 880 -40" fill="none" stroke="#a8a8a8" stroke-width="60" stroke-linecap="round" stroke-linejoin="round"/><path d="M580 1800 C584 1789 569 1829 603 1732 C637 1635 730 1370 782 1217 C834 1064 879 946 916 815 C953 684 980 568 1006 433 C1032 298 1061 87 1073 8 C1085 -71 1079 -32 1080 -40" fill="none" stroke="#a3a3a3" stroke-width="60" stroke-linecap="round" stroke-linejoin="round"/></g><g filter="url(#b15)"><path d="M530 560 C577 545 697 590 800 600 C903 610 1092 600 1150 620 C1208 640 1208 707 1150 720 C1092 733 905 705 800 700 C695 695 565 713 520 690 C475 667 483 575 530 560Z" fill="#333333"/></g></g><g id="m7r"><g><rect x="-100" y="-100" width="1936" height="1936" fill="#383838"/></g><g filter="url(#b30)"><ellipse cx="450" cy="600" rx="150" ry="500" fill="#4c4c4c"/></g><g filter="url(#b12)"><path d="M600 1200 L660 300 L700 150 L1120 150 L1082 300 L990 1200Z" fill="#787878"/><path d="M900 330 C897 383 887 538 880 650 C873 762 863 942 860 1000" fill="none" stroke="#4c4c4c" stroke-width="70" stroke-linecap="round" stroke-linejoin="round"/><path d="M840 150 C838 174 843 225 829 295 C815 365 774 474 755 571 C736 668 727 791 718 879 C709 967 703 1063 700 1100" fill="none" stroke="#a8a8a8" stroke-width="65" stroke-linecap="round" stroke-linejoin="round"/><path d="M1050 150 C1048 174 1048 225 1038 295 C1028 365 1007 474 989 571 C971 668 943 791 928 879 C913 967 905 1063 900 1100" fill="none" stroke="#a3a3a3" stroke-width="65" stroke-linecap="round" stroke-linejoin="round"/></g></g><clipPath id="cl01"><polygon points="678,68 1505,780 1028,1330 202,612"/></clipPath><clipPath id="cl03"><polygon points="642,158 1293,720 800,1287 150,725"/></clipPath><clipPath id="cl11"><polygon points="640,155 1290,718 798,1288 150,720"/></clipPath><clipPath id="cl13"><polygon points="733,348 1215,765 877,1155 395,735"/></clipPath><clipPath id="cl21"><polygon points="635,292 1225,688 875,1205 285,808"/></clipPath><clipPath id="cl23"><polygon points="543,288 1380,737 1110,1233 275,785"/></clipPath><clipPath id="cl31"><polygon points="405,258 1385,442 1270,1045 290,855"/></clipPath><clipPath id="cl33"><polygon points="545,270 1262,342 1200,958 485,887"/></clipPath></defs><rect width="2038" height="2505" fill="#fff"/><rect x="47" y="22" width="456" height="536" fill="#fff" stroke="#111" stroke-width="2"/><svg x="48" y="102" width="454" height="455" viewBox="0 0 1736 1736" preserveAspectRatio="none"><g filter="url(#ramp)"><use href="#m0"/></g><polygon points="675,68 1500,780 1025,1330 200,615" fill="none" stroke="#e8040c" stroke-width="12" stroke-linejoin="miter"/><g fill="#000"><rect x="302.5" y="0" width="15" height="57"/><rect x="957.5" y="0" width="15" height="57"/><rect x="1597.5" y="0" width="15" height="57"/><rect x="322.5" y="1679" width="15" height="57"/><rect x="980.5" y="1679" width="15" height="57"/><rect x="1617.5" y="1679" width="15" height="57"/><rect x="0" y="214.5" width="57" height="15"/><rect x="0" y="772.5" width="57" height="15"/><rect x="0" y="1312.5" width="57" height="15"/><rect x="1679" y="204.5" width="57" height="15"/><rect x="1679" y="762.5" width="57" height="15"/><rect x="1679" y="1300.5" width="57" height="15"/></g></svg><rect x="47" y="22" width="456" height="536" fill="none" stroke="#111" stroke-width="2"/><text x="193.2" y="81.6" text-anchor="middle" stroke="#000" stroke-width="0.9" style="font-family:'Noto Serif CJK SC',serif;font-size:51.5px">①</text><text x="230.5" y="80.5" textLength="147.8" lengthAdjust="spacingAndGlyphs" style="font-family:'Liberation Serif','Times New Roman',serif;font-size:51px">Present</text><text transform="translate(34.0 168) rotate(-90)" text-anchor="middle" style="font-family:'Liberation Serif','Times New Roman',serif;font-size:24.9px">3,315,000</text><text transform="translate(34.0 305) rotate(-90)" text-anchor="middle" style="font-family:'Liberation Serif','Times New Roman',serif;font-size:24.9px">3,312,000</text><text transform="translate(34.0 445.6) rotate(-90)" text-anchor="middle" style="font-family:'Liberation Serif','Times New Roman',serif;font-size:24.9px">3,309,000</text><text x="136.1" y="583.5" text-anchor="middle" style="font-family:'Liberation Serif','Times New Roman',serif;font-size:24.9px">628,000</text><text x="308.6" y="583.5" text-anchor="middle" style="font-family:'Liberation Serif','Times New Roman',serif;font-size:24.9px">632,000</text><text x="469.5" y="583.5" text-anchor="middle" style="font-family:'Liberation Serif','Times New Roman',serif;font-size:24.9px">636,000</text><rect x="517" y="22" width="456" height="536" fill="#fff" stroke="#111" stroke-width="2"/><svg x="518" y="102" width="454" height="455" viewBox="0 0 1736 1736" preserveAspectRatio="none"><g filter="url(#ramp)"><use href="#m0"/><g clip-path="url(#cl01)"><use href="#m0r"/></g></g><polygon points="678,68 1505,780 1028,1330 202,612" fill="none" stroke="#e8040c" stroke-width="12" stroke-linejoin="miter"/><g fill="#000"><rect x="297.5" y="0" width="15" height="57"/><rect x="957.5" y="0" width="15" height="57"/><rect x="1597.5" y="0" width="15" height="57"/><rect x="322.5" y="1679" width="15" height="57"/><rect x="980.5" y="1679" width="15" height="57"/><rect x="1617.5" y="1679" width="15" height="57"/><rect x="0" y="200.5" width="57" height="15"/><rect x="0" y="760.5" width="57" height="15"/><rect x="0" y="1297.5" width="57" height="15"/><rect x="1679" y="202.5" width="57" height="15"/><rect x="1679" y="760.5" width="57" height="15"/><rect x="1679" y="1297.5" width="57" height="15"/></g></svg><rect x="517" y="22" width="456" height="536" fill="none" stroke="#111" stroke-width="2"/><text x="594.9" y="81.6" text-anchor="middle" stroke="#000" stroke-width="0.9" style="font-family:'Noto Serif CJK SC',serif;font-size:51.5px">①</text><text x="632.2" y="80.5" textLength="284.5" lengthAdjust="spacingAndGlyphs" style="font-family:'Liberation Serif','Times New Roman',serif;font-size:51px">Reconstructed</text><text transform="translate(1001 168.5) rotate(-90)" text-anchor="middle" style="font-family:'Liberation Serif','Times New Roman',serif;font-size:24.9px">3,315,000</text><text transform="translate(1001 306.2) rotate(-90)" text-anchor="middle" style="font-family:'Liberation Serif','Times New Roman',serif;font-size:24.9px">3,312,000</text><text transform="translate(1001 445) rotate(-90)" text-anchor="middle" style="font-family:'Liberation Serif','Times New Roman',serif;font-size:24.9px">3,309,000</text><text x="605.5" y="583" text-anchor="middle" style="font-family:'Liberation Serif','Times New Roman',serif;font-size:24.9px">628,000</text><text x="778" y="583" text-anchor="middle" style="font-family:'Liberation Serif','Times New Roman',serif;font-size:24.9px">632,000</text><text x="932.7" y="583" text-anchor="middle" style="font-family:'Liberation Serif','Times New Roman',serif;font-size:24.9px">636,000</text><rect x="1063" y="22" width="455.5" height="536" fill="#fff" stroke="#111" stroke-width="2"/><svg x="1064" y="102" width="453.5" height="455" viewBox="0 0 1736 1736" preserveAspectRatio="none"><g filter="url(#ramp)"><use href="#m1"/></g><polygon points="640,158 1290,720 797,1285 150,722" fill="none" stroke="#e8040c" stroke-width="12" stroke-linejoin="miter"/><g fill="#000"><rect x="297.5" y="0" width="15" height="57"/><rect x="954.5" y="0" width="15" height="57"/><rect x="1597.5" y="0" width="15" height="57"/><rect x="317.5" y="1679" width="15" height="57"/><rect x="977.5" y="1679" width="15" height="57"/><rect x="1617.5" y="1679" width="15" height="57"/><rect x="0" y="207.5" width="57" height="15"/><rect x="0" y="767.5" width="57" height="15"/><rect x="0" y="1302.5" width="57" height="15"/><rect x="1679" y="202.5" width="57" height="15"/><rect x="1679" y="760.5" width="57" height="15"/><rect x="1679" y="1297.5" width="57" height="15"/></g></svg><rect x="1063" y="22" width="455.5" height="536" fill="none" stroke="#111" stroke-width="2"/><text x="1209.0" y="81.6" text-anchor="middle" stroke="#000" stroke-width="0.9" style="font-family:'Noto Serif CJK SC',serif;font-size:51.5px">②</text><text x="1246.3" y="80.5" textLength="147.8" lengthAdjust="spacingAndGlyphs" style="font-family:'Liberation Serif','Times New Roman',serif;font-size:51px">Present</text><text transform="translate(1049 168.5) rotate(-90)" text-anchor="middle" style="font-family:'Liberation Serif','Times New Roman',serif;font-size:24.9px">3,306,000</text><text transform="translate(1049 303.8) rotate(-90)" text-anchor="middle" style="font-family:'Liberation Serif','Times New Roman',serif;font-size:24.9px">3,303,000</text><text transform="translate(1049 445) rotate(-90)" text-anchor="middle" style="font-family:'Liberation Serif','Times New Roman',serif;font-size:24.9px">3,300,000</text><text x="1151" y="582.4" text-anchor="middle" style="font-family:'Liberation Serif','Times New Roman',serif;font-size:24.9px">632,000</text><text x="1324.6" y="582.4" text-anchor="middle" style="font-family:'Liberation Serif','Times New Roman',serif;font-size:24.9px">636,000</text><text x="1485.6" y="582.4" text-anchor="middle" style="font-family:'Liberation Serif','Times New Roman',serif;font-size:24.9px">640,000</text><rect x="1536" y="22" width="455" height="536" fill="#fff" stroke="#111" stroke-width="2"/><svg x="1537" y="102" width="453" height="455" viewBox="0 0 1736 1736" preserveAspectRatio="none"><g filter="url(#ramp)"><use href="#m1"/><g><g filter="url(#b10)"><path d="M1230 1800 C1177 1733 1396 1533 1480 1400 C1564 1267 1683 1067 1736 1000 C1789 933 1789 867 1800 1000 C1811 1133 1895 1667 1800 1800 C1705 1933 1283 1867 1230 1800Z" fill="#737373"/><path d="M1400 1736 L1736 1200" fill="none" stroke="#9e9e9e" stroke-width="25" stroke-linecap="round" stroke-linejoin="round"/><path d="M1650 1800 L1800 1500" fill="none" stroke="#adadad" stroke-width="200" stroke-linecap="round" stroke-linejoin="round"/></g></g><g clip-path="url(#cl03)"><use href="#m1r"/></g></g><polygon points="642,158 1293,720 800,1287 150,725" fill="none" stroke="#e8040c" stroke-width="12" stroke-linejoin="miter"/><g fill="#000"><rect x="297.5" y="0" width="15" height="57"/><rect x="954.5" y="0" width="15" height="57"/><rect x="1597.5" y="0" width="15" height="57"/><rect x="317.5" y="1679" width="15" height="57"/><rect x="977.5" y="1679" width="15" height="57"/><rect x="1617.5" y="1679" width="15" height="57"/><rect x="0" y="207.5" width="57" height="15"/><rect x="0" y="767.5" width="57" height="15"/><rect x="0" y="1302.5" width="57" height="15"/><rect x="1679" y="200.5" width="57" height="15"/><rect x="1679" y="757.5" width="57" height="15"/><rect x="1679" y="1292.5" width="57" height="15"/></g></svg><rect x="1536" y="22" width="455" height="536" fill="none" stroke="#111" stroke-width="2"/><text x="1613.3" y="81.6" text-anchor="middle" stroke="#000" stroke-width="0.9" style="font-family:'Noto Serif CJK SC',serif;font-size:51.5px">②</text><text x="1650.7" y="80.5" textLength="284.5" lengthAdjust="spacingAndGlyphs" style="font-family:'Liberation Serif','Times New Roman',serif;font-size:51px">Reconstructed</text><text transform="translate(2016.7 158) rotate(-90)" text-anchor="middle" style="font-family:'Liberation Serif','Times New Roman',serif;font-size:24.9px">3,306,000</text><text transform="translate(2016.7 295.7) rotate(-90)" text-anchor="middle" style="font-family:'Liberation Serif','Times New Roman',serif;font-size:24.9px">3,303,000</text><text transform="translate(2016.7 435.6) rotate(-90)" text-anchor="middle" style="font-family:'Liberation Serif','Times New Roman',serif;font-size:24.9px">3,300,000</text><text x="1623.5" y="582.4" text-anchor="middle" style="font-family:'Liberation Serif','Times New Roman',serif;font-size:24.9px">632,000</text><text x="1797.2" y="582.4" text-anchor="middle" style="font-family:'Liberation Serif','Times New Roman',serif;font-size:24.9px">636,000</text><text x="1945.5" y="582.4" text-anchor="middle" style="font-family:'Liberation Serif','Times New Roman',serif;font-size:24.9px">640,000</text><rect x="47" y="602" width="456" height="536" fill="#fff" stroke="#111" stroke-width="2"/><svg x="48" y="682" width="454" height="455" viewBox="0 0 1736 1736" preserveAspectRatio="none"><g filter="url(#ramp)"><use href="#m2"/></g><polygon points="640,162 1292,722 798,1295 150,728" fill="none" stroke="#e8040c" stroke-width="12" stroke-linejoin="miter"/><g fill="#000"><rect x="557.5" y="0" width="15" height="57"/><rect x="1212.5" y="0" width="15" height="57"/><rect x="557.5" y="1679" width="15" height="57"/><rect x="1212.5" y="1679" width="15" height="57"/><rect x="0" y="400.5" width="57" height="15"/><rect x="0" y="957.5" width="57" height="15"/><rect x="0" y="1497.5" width="57" height="15"/><rect x="1679" y="400.5" width="57" height="15"/><rect x="1679" y="957.5" width="57" height="15"/><rect x="1679" y="1497.5" width="57" height="15"/></g></svg><rect x="47" y="602" width="456" height="536" fill="none" stroke="#111" stroke-width="2"/><text x="193.2" y="661.6" text-anchor="middle" stroke="#000" stroke-width="0.9" style="font-family:'Noto Serif CJK SC',serif;font-size:51.5px">③</text><text x="230.5" y="660.5" textLength="147.8" lengthAdjust="spacingAndGlyphs" style="font-family:'Liberation Serif','Times New Roman',serif;font-size:51px">Present</text><text transform="translate(34 796.6) rotate(-90)" text-anchor="middle" style="font-family:'Liberation Serif','Times New Roman',serif;font-size:24.9px">3,300,000</text><text transform="translate(34 933) rotate(-90)" text-anchor="middle" style="font-family:'Liberation Serif','Times New Roman',serif;font-size:24.9px">3,297,000</text><text transform="translate(34 1073.7) rotate(-90)" text-anchor="middle" style="font-family:'Liberation Serif','Times New Roman',serif;font-size:24.9px">3,294,000</text><text x="198.4" y="1164.2" text-anchor="middle" style="font-family:'Liberation Serif','Times New Roman',serif;font-size:24.9px">640,000</text><text x="371.2" y="1164.2" text-anchor="middle" style="font-family:'Liberation Serif','Times New Roman',serif;font-size:24.9px">644,000</text><rect x="520.6" y="602" width="454.9" height="536" fill="#fff" stroke="#111" stroke-width="2"/><svg x="521.6" y="682" width="452.9" height="455" viewBox="0 0 1736 1736" preserveAspectRatio="none"><g filter="url(#ramp)"><use href="#m2"/><g clip-path="url(#cl11)"><use href="#m2r"/></g></g><polygon points="640,155 1290,718 798,1288 150,720" fill="none" stroke="#e8040c" stroke-width="12" stroke-linejoin="miter"/><g fill="#000"><rect x="557.5" y="0" width="15" height="57"/><rect x="1212.5" y="0" width="15" height="57"/><rect x="557.5" y="1679" width="15" height="57"/><rect x="1212.5" y="1679" width="15" height="57"/><rect x="0" y="400.5" width="57" height="15"/><rect x="0" y="957.5" width="57" height="15"/><rect x="0" y="1497.5" width="57" height="15"/><rect x="1679" y="400.5" width="57" height="15"/><rect x="1679" y="957.5" width="57" height="15"/><rect x="1679" y="1497.5" width="57" height="15"/></g></svg><rect x="520.6" y="602" width="454.9" height="536" fill="none" stroke="#111" stroke-width="2"/><text x="597.9" y="661.6" text-anchor="middle" stroke="#000" stroke-width="0.9" style="font-family:'Noto Serif CJK SC',serif;font-size:51.5px">③</text><text x="635.2" y="660.5" textLength="284.5" lengthAdjust="spacingAndGlyphs" style="font-family:'Liberation Serif','Times New Roman',serif;font-size:51px">Reconstructed</text><text transform="translate(1000.2 796.5) rotate(-90)" text-anchor="middle" style="font-family:'Liberation Serif','Times New Roman',serif;font-size:24.9px">3,300,000</text><text transform="translate(1000.2 933.5) rotate(-90)" text-anchor="middle" style="font-family:'Liberation Serif','Times New Roman',serif;font-size:24.9px">3,297,000</text><text transform="translate(1000.2 1074.2) rotate(-90)" text-anchor="middle" style="font-family:'Liberation Serif','Times New Roman',serif;font-size:24.9px">3,294,000</text><text x="670.7" y="1164.2" text-anchor="middle" style="font-family:'Liberation Serif','Times New Roman',serif;font-size:24.9px">640,000</text><text x="844.2" y="1164.2" text-anchor="middle" style="font-family:'Liberation Serif','Times New Roman',serif;font-size:24.9px">644,000</text><rect x="1064" y="602" width="455" height="536" fill="#fff" stroke="#111" stroke-width="2"/><svg x="1065" y="682" width="453" height="455" viewBox="0 0 1736 1736" preserveAspectRatio="none"><g filter="url(#ramp)"><use href="#m3"/></g><polygon points="725,350 1210,768 870,1160 388,740" fill="none" stroke="#e8040c" stroke-width="12" stroke-linejoin="miter"/><g fill="#000"><rect x="54.5" y="0" width="15" height="57"/><rect x="729.5" y="0" width="15" height="57"/><rect x="1384.5" y="0" width="15" height="57"/><rect x="54.5" y="1679" width="15" height="57"/><rect x="729.5" y="1679" width="15" height="57"/><rect x="1384.5" y="1679" width="15" height="57"/><rect x="0" y="400.5" width="57" height="15"/><rect x="0" y="957.5" width="57" height="15"/><rect x="0" y="1497.5" width="57" height="15"/><rect x="1679" y="400.5" width="57" height="15"/><rect x="1679" y="957.5" width="57" height="15"/><rect x="1679" y="1497.5" width="57" height="15"/></g></svg><rect x="1064" y="602" width="455" height="536" fill="none" stroke="#111" stroke-width="2"/><text x="1209.7" y="661.6" text-anchor="middle" stroke="#000" stroke-width="0.9" style="font-family:'Noto Serif CJK SC',serif;font-size:51.5px">④</text><text x="1247.1" y="660.5" textLength="147.8" lengthAdjust="spacingAndGlyphs" style="font-family:'Liberation Serif','Times New Roman',serif;font-size:51px">Present</text><text transform="translate(1051.8 796.5) rotate(-90)" text-anchor="middle" style="font-family:'Liberation Serif','Times New Roman',serif;font-size:24.9px">3,376,000</text><text transform="translate(1051.8 933) rotate(-90)" text-anchor="middle" style="font-family:'Liberation Serif','Times New Roman',serif;font-size:24.9px">3,273,000</text><text transform="translate(1051.8 1073.7) rotate(-90)" text-anchor="middle" style="font-family:'Liberation Serif','Times New Roman',serif;font-size:24.9px">3,270,000</text><text x="1082.8" y="1164.5" text-anchor="middle" style="font-family:'Liberation Serif','Times New Roman',serif;font-size:24.9px">656,000</text><text x="1259.4" y="1164.5" text-anchor="middle" style="font-family:'Liberation Serif','Times New Roman',serif;font-size:24.9px">660,000</text><text x="1433.6" y="1164.5" text-anchor="middle" style="font-family:'Liberation Serif','Times New Roman',serif;font-size:24.9px">664,000</text><rect x="1538" y="602" width="454.5" height="536" fill="#fff" stroke="#111" stroke-width="2"/><svg x="1539" y="682" width="452.5" height="455" viewBox="0 0 1736 1736" preserveAspectRatio="none"><g filter="url(#ramp)"><use href="#m3"/><g clip-path="url(#cl13)"><use href="#m3r"/></g></g><polygon points="733,348 1215,765 877,1155 395,735" fill="none" stroke="#e8040c" stroke-width="12" stroke-linejoin="miter"/><g fill="#000"><rect x="60.5" y="0" width="15" height="57"/><rect x="729.5" y="0" width="15" height="57"/><rect x="1384.5" y="0" width="15" height="57"/><rect x="60.5" y="1679" width="15" height="57"/><rect x="729.5" y="1679" width="15" height="57"/><rect x="1384.5" y="1679" width="15" height="57"/><rect x="0" y="394.5" width="57" height="15"/><rect x="0" y="952.5" width="57" height="15"/><rect x="0" y="1489.5" width="57" height="15"/><rect x="1679" y="394.5" width="57" height="15"/><rect x="1679" y="952.5" width="57" height="15"/><rect x="1679" y="1489.5" width="57" height="15"/></g></svg><rect x="1538" y="602" width="454.5" height="536" fill="none" stroke="#111" stroke-width="2"/><text x="1615.1" y="661.6" text-anchor="middle" stroke="#000" stroke-width="0.9" style="font-family:'Noto Serif CJK SC',serif;font-size:51.5px">④</text><text x="1652.5" y="660.5" textLength="284.5" lengthAdjust="spacingAndGlyphs" style="font-family:'Liberation Serif','Times New Roman',serif;font-size:51px">Reconstructed</text><text transform="translate(2022.6 795.4) rotate(-90)" text-anchor="middle" style="font-family:'Liberation Serif','Times New Roman',serif;font-size:24.9px">3,376,000</text><text transform="translate(2022.6 931.9) rotate(-90)" text-anchor="middle" style="font-family:'Liberation Serif','Times New Roman',serif;font-size:24.9px">3,273,000</text><text transform="translate(2022.6 1073) rotate(-90)" text-anchor="middle" style="font-family:'Liberation Serif','Times New Roman',serif;font-size:24.9px">3,270,000</text><text x="1559" y="1162.2" text-anchor="middle" style="font-family:'Liberation Serif','Times New Roman',serif;font-size:24.9px">656,000</text><text x="1733.9" y="1162.2" text-anchor="middle" style="font-family:'Liberation Serif','Times New Roman',serif;font-size:24.9px">660,000</text><text x="1906.9" y="1162.2" text-anchor="middle" style="font-family:'Liberation Serif','Times New Roman',serif;font-size:24.9px">664,000</text><rect x="48.5" y="1185" width="455.5" height="536" fill="#fff" stroke="#111" stroke-width="2"/><svg x="49.5" y="1265" width="453.5" height="455" viewBox="0 0 1736 1736" preserveAspectRatio="none"><g filter="url(#ramp)"><use href="#m4"/></g><polygon points="638,292 1228,688 878,1205 290,808" fill="none" stroke="#e8040c" stroke-width="12" stroke-linejoin="miter"/><g fill="#000"><rect x="377.5" y="0" width="15" height="57"/><rect x="1037.5" y="0" width="15" height="57"/><rect x="377.5" y="1679" width="15" height="57"/><rect x="1037.5" y="1679" width="15" height="57"/><rect x="0" y="84.5" width="57" height="15"/><rect x="0" y="570.5" width="57" height="15"/><rect x="0" y="1127.5" width="57" height="15"/><rect x="0" y="1664.5" width="57" height="15"/><rect x="1679" y="87.5" width="57" height="15"/><rect x="1679" y="570.5" width="57" height="15"/><rect x="1679" y="1127.5" width="57" height="15"/><rect x="1679" y="1664.5" width="57" height="15"/></g></svg><rect x="48.5" y="1185" width="455.5" height="536" fill="none" stroke="#111" stroke-width="2"/><text x="194.4" y="1244.6" text-anchor="middle" stroke="#000" stroke-width="0.9" style="font-family:'Noto Serif CJK SC',serif;font-size:51.5px">⑤</text><text x="231.8" y="1243.5" textLength="147.8" lengthAdjust="spacingAndGlyphs" style="font-family:'Liberation Serif','Times New Roman',serif;font-size:51px">Present</text><text transform="translate(35.2 1290) rotate(-90)" text-anchor="middle" style="font-family:'Liberation Serif','Times New Roman',serif;font-size:24.9px">3,379,000</text><text transform="translate(35.2 1424) rotate(-90)" text-anchor="middle" style="font-family:'Liberation Serif','Times New Roman',serif;font-size:24.9px">3,376,000</text><text transform="translate(35.2 1561.7) rotate(-90)" text-anchor="middle" style="font-family:'Liberation Serif','Times New Roman',serif;font-size:24.9px">3,273,000</text><text transform="translate(35.2 1701) rotate(-90)" text-anchor="middle" style="font-family:'Liberation Serif','Times New Roman',serif;font-size:24.9px">3,270,000</text><text x="151.2" y="1746" text-anchor="middle" style="font-family:'Liberation Serif','Times New Roman',serif;font-size:24.9px">640,000</text><text x="325.1" y="1746" text-anchor="middle" style="font-family:'Liberation Serif','Times New Roman',serif;font-size:24.9px">644,000</text><rect x="524" y="1185" width="455" height="536" fill="#fff" stroke="#111" stroke-width="2"/><svg x="525" y="1265" width="453" height="455" viewBox="0 0 1736 1736" preserveAspectRatio="none"><g filter="url(#ramp)"><use href="#m4"/><g clip-path="url(#cl21)"><use href="#m4r"/></g></g><polygon points="635,292 1225,688 875,1205 285,808" fill="none" stroke="#e8040c" stroke-width="12" stroke-linejoin="miter"/><g fill="#000"><rect x="372.5" y="0" width="15" height="57"/><rect x="1032.5" y="0" width="15" height="57"/><rect x="372.5" y="1679" width="15" height="57"/><rect x="1032.5" y="1679" width="15" height="57"/><rect x="0" y="80.5" width="57" height="15"/><rect x="0" y="570.5" width="57" height="15"/><rect x="0" y="1127.5" width="57" height="15"/><rect x="0" y="1664.5" width="57" height="15"/><rect x="1679" y="87.5" width="57" height="15"/><rect x="1679" y="570.5" width="57" height="15"/><rect x="1679" y="1127.5" width="57" height="15"/><rect x="1679" y="1664.5" width="57" height="15"/></g></svg><rect x="524" y="1185" width="455" height="536" fill="none" stroke="#111" stroke-width="2"/><text x="601.4" y="1244.6" text-anchor="middle" stroke="#000" stroke-width="0.9" style="font-family:'Noto Serif CJK SC',serif;font-size:51.5px">⑤</text><text x="638.7" y="1243.5" textLength="284.5" lengthAdjust="spacingAndGlyphs" style="font-family:'Liberation Serif','Times New Roman',serif;font-size:51px">Reconstructed</text><text transform="translate(1008.3 1287.3) rotate(-90)" text-anchor="middle" style="font-family:'Liberation Serif','Times New Roman',serif;font-size:24.9px">3,379,000</text><text transform="translate(1008.3 1420) rotate(-90)" text-anchor="middle" style="font-family:'Liberation Serif','Times New Roman',serif;font-size:24.9px">3,376,000</text><text transform="translate(1008.3 1563) rotate(-90)" text-anchor="middle" style="font-family:'Liberation Serif','Times New Roman',serif;font-size:24.9px">3,273,000</text><text transform="translate(1008.3 1705) rotate(-90)" text-anchor="middle" style="font-family:'Liberation Serif','Times New Roman',serif;font-size:24.9px">3,270,000</text><text x="626.4" y="1746" text-anchor="middle" style="font-family:'Liberation Serif','Times New Roman',serif;font-size:24.9px">640,000</text><text x="799.3" y="1746" text-anchor="middle" style="font-family:'Liberation Serif','Times New Roman',serif;font-size:24.9px">644,000</text><rect x="1064" y="1185" width="455" height="536" fill="#fff" stroke="#111" stroke-width="2"/><svg x="1065" y="1265" width="453" height="455" viewBox="0 0 1736 1736" preserveAspectRatio="none"><g filter="url(#ramp)"><use href="#m5"/></g><polygon points="545,285 1380,735 1112,1230 280,783" fill="none" stroke="#e8040c" stroke-width="12" stroke-linejoin="miter"/><g fill="#000"><rect x="347.5" y="0" width="15" height="57"/><rect x="1020.5" y="0" width="15" height="57"/><rect x="1682.5" y="0" width="15" height="57"/><rect x="347.5" y="1679" width="15" height="57"/><rect x="1020.5" y="1679" width="15" height="57"/><rect x="1682.5" y="1679" width="15" height="57"/><rect x="0" y="394.5" width="57" height="15"/><rect x="0" y="952.5" width="57" height="15"/><rect x="0" y="1489.5" width="57" height="15"/><rect x="1679" y="394.5" width="57" height="15"/><rect x="1679" y="952.5" width="57" height="15"/><rect x="1679" y="1489.5" width="57" height="15"/></g></svg><rect x="1064" y="1185" width="455" height="536" fill="none" stroke="#111" stroke-width="2"/><text x="1209.7" y="1244.6" text-anchor="middle" stroke="#000" stroke-width="0.9" style="font-family:'Noto Serif CJK SC',serif;font-size:51.5px">⑥</text><text x="1247.1" y="1243.5" textLength="147.8" lengthAdjust="spacingAndGlyphs" style="font-family:'Liberation Serif','Times New Roman',serif;font-size:51px">Present</text><text transform="translate(1050.8 1381.4) rotate(-90)" text-anchor="middle" style="font-family:'Liberation Serif','Times New Roman',serif;font-size:24.9px">3,385,000</text><text transform="translate(1050.8 1519.3) rotate(-90)" text-anchor="middle" style="font-family:'Liberation Serif','Times New Roman',serif;font-size:24.9px">3,282,000</text><text transform="translate(1050.8 1657.9) rotate(-90)" text-anchor="middle" style="font-family:'Liberation Serif','Times New Roman',serif;font-size:24.9px">3,279,000</text><text x="1160" y="1745" text-anchor="middle" style="font-family:'Liberation Serif','Times New Roman',serif;font-size:24.9px">676,000</text><text x="1336.4" y="1745" text-anchor="middle" style="font-family:'Liberation Serif','Times New Roman',serif;font-size:24.9px">680,000</text><text x="1503.7" y="1745" text-anchor="middle" style="font-family:'Liberation Serif','Times New Roman',serif;font-size:24.9px">684,000</text><rect x="1538" y="1185" width="454.5" height="536" fill="#fff" stroke="#111" stroke-width="2"/><svg x="1539" y="1265" width="452.5" height="455" viewBox="0 0 1736 1736" preserveAspectRatio="none"><g filter="url(#ramp)"><use href="#m5"/><g clip-path="url(#cl23)"><use href="#m5r"/></g></g><polygon points="543,288 1380,737 1110,1233 275,785" fill="none" stroke="#e8040c" stroke-width="12" stroke-linejoin="miter"/><g fill="#000"><rect x="350.5" y="0" width="15" height="57"/><rect x="1020.5" y="0" width="15" height="57"/><rect x="1682.5" y="0" width="15" height="57"/><rect x="350.5" y="1679" width="15" height="57"/><rect x="1020.5" y="1679" width="15" height="57"/><rect x="1682.5" y="1679" width="15" height="57"/><rect x="0" y="394.5" width="57" height="15"/><rect x="0" y="952.5" width="57" height="15"/><rect x="0" y="1489.5" width="57" height="15"/><rect x="1679" y="394.5" width="57" height="15"/><rect x="1679" y="952.5" width="57" height="15"/><rect x="1679" y="1489.5" width="57" height="15"/></g></svg><rect x="1538" y="1185" width="454.5" height="536" fill="none" stroke="#111" stroke-width="2"/><text x="1615.1" y="1244.6" text-anchor="middle" stroke="#000" stroke-width="0.9" style="font-family:'Noto Serif CJK SC',serif;font-size:51.5px">⑥</text><text x="1652.5" y="1243.5" textLength="284.5" lengthAdjust="spacingAndGlyphs" style="font-family:'Liberation Serif','Times New Roman',serif;font-size:51px">Reconstructed</text><text transform="translate(2020.5 1382) rotate(-90)" text-anchor="middle" style="font-family:'Liberation Serif','Times New Roman',serif;font-size:24.9px">3,385,000</text><text transform="translate(2020.5 1518.7) rotate(-90)" text-anchor="middle" style="font-family:'Liberation Serif','Times New Roman',serif;font-size:24.9px">3,282,000</text><text transform="translate(2020.5 1658.5) rotate(-90)" text-anchor="middle" style="font-family:'Liberation Serif','Times New Roman',serif;font-size:24.9px">3,279,000</text><text x="1634" y="1745" text-anchor="middle" style="font-family:'Liberation Serif','Times New Roman',serif;font-size:24.9px">676,000</text><text x="1811" y="1745" text-anchor="middle" style="font-family:'Liberation Serif','Times New Roman',serif;font-size:24.9px">680,000</text><text x="1983" y="1745" text-anchor="middle" style="font-family:'Liberation Serif','Times New Roman',serif;font-size:24.9px">684,000</text><rect x="48.5" y="1767" width="455.5" height="535.5" fill="#fff" stroke="#111" stroke-width="2"/><svg x="49.5" y="1847" width="453.5" height="454.5" viewBox="0 0 1736 1736" preserveAspectRatio="none"><g filter="url(#ramp)"><use href="#m6"/></g><polygon points="412,262 1392,445 1278,1045 298,857" fill="none" stroke="#e8040c" stroke-width="12" stroke-linejoin="miter"/><g fill="#000"><rect x="164.5" y="0" width="15" height="57"/><rect x="820.5" y="0" width="15" height="57"/><rect x="1487.5" y="0" width="15" height="57"/><rect x="160.5" y="1679" width="15" height="57"/><rect x="817.5" y="1679" width="15" height="57"/><rect x="1484.5" y="1679" width="15" height="57"/><rect x="0" y="80.5" width="57" height="15"/><rect x="0" y="570.5" width="57" height="15"/><rect x="0" y="1127.5" width="57" height="15"/><rect x="0" y="1664.5" width="57" height="15"/><rect x="1679" y="84.5" width="57" height="15"/><rect x="1679" y="570.5" width="57" height="15"/><rect x="1679" y="1127.5" width="57" height="15"/><rect x="1679" y="1664.5" width="57" height="15"/></g></svg><rect x="48.5" y="1767" width="455.5" height="535.5" fill="none" stroke="#111" stroke-width="2"/><text x="194.4" y="1826.6" text-anchor="middle" stroke="#000" stroke-width="0.9" style="font-family:'Noto Serif CJK SC',serif;font-size:51.5px">⑦</text><text x="231.8" y="1825.5" textLength="147.8" lengthAdjust="spacingAndGlyphs" style="font-family:'Liberation Serif','Times New Roman',serif;font-size:51px">Present</text><text transform="translate(37 1870.9) rotate(-90)" text-anchor="middle" style="font-family:'Liberation Serif','Times New Roman',serif;font-size:24.9px">3,309,000</text><text transform="translate(37 2008.1) rotate(-90)" text-anchor="middle" style="font-family:'Liberation Serif','Times New Roman',serif;font-size:24.9px">3,306,000</text><text transform="translate(37 2142.8) rotate(-90)" text-anchor="middle" style="font-family:'Liberation Serif','Times New Roman',serif;font-size:24.9px">3,203,000</text><text transform="translate(37 2282.6) rotate(-90)" text-anchor="middle" style="font-family:'Liberation Serif','Times New Roman',serif;font-size:24.9px">3,300,000</text><text x="94.8" y="2327.8" text-anchor="middle" style="font-family:'Liberation Serif','Times New Roman',serif;font-size:24.9px">672,000</text><text x="267.5" y="2327.8" text-anchor="middle" style="font-family:'Liberation Serif','Times New Roman',serif;font-size:24.9px">676,000</text><text x="442.7" y="2327.8" text-anchor="middle" style="font-family:'Liberation Serif','Times New Roman',serif;font-size:24.9px">680,000</text><rect x="524.5" y="1767" width="455.0" height="535.5" fill="#fff" stroke="#111" stroke-width="2"/><svg x="525.5" y="1847" width="453.0" height="454.5" viewBox="0 0 1736 1736" preserveAspectRatio="none"><g filter="url(#ramp)"><use href="#m6"/><g clip-path="url(#cl31)"><use href="#m6r"/></g></g><polygon points="405,258 1385,442 1270,1045 290,855" fill="none" stroke="#e8040c" stroke-width="12" stroke-linejoin="miter"/><g fill="#000"><rect x="164.5" y="0" width="15" height="57"/><rect x="817.5" y="0" width="15" height="57"/><rect x="1487.5" y="0" width="15" height="57"/><rect x="160.5" y="1679" width="15" height="57"/><rect x="817.5" y="1679" width="15" height="57"/><rect x="1484.5" y="1679" width="15" height="57"/><rect x="0" y="82.5" width="57" height="15"/><rect x="0" y="570.5" width="57" height="15"/><rect x="0" y="1130.5" width="57" height="15"/><rect x="0" y="1664.5" width="57" height="15"/><rect x="1679" y="87.5" width="57" height="15"/><rect x="1679" y="570.5" width="57" height="15"/><rect x="1679" y="1130.5" width="57" height="15"/><rect x="1679" y="1664.5" width="57" height="15"/></g></svg><rect x="524.5" y="1767" width="455.0" height="535.5" fill="none" stroke="#111" stroke-width="2"/><text x="601.9" y="1826.6" text-anchor="middle" stroke="#000" stroke-width="0.9" style="font-family:'Noto Serif CJK SC',serif;font-size:51.5px">⑦</text><text x="639.2" y="1825.5" textLength="284.5" lengthAdjust="spacingAndGlyphs" style="font-family:'Liberation Serif','Times New Roman',serif;font-size:51px">Reconstructed</text><text transform="translate(1008.3 1872.8) rotate(-90)" text-anchor="middle" style="font-family:'Liberation Serif','Times New Roman',serif;font-size:24.9px">3,309,000</text><text transform="translate(1008.3 2007.5) rotate(-90)" text-anchor="middle" style="font-family:'Liberation Serif','Times New Roman',serif;font-size:24.9px">3,306,000</text><text transform="translate(1008.3 2143.5) rotate(-90)" text-anchor="middle" style="font-family:'Liberation Serif','Times New Roman',serif;font-size:24.9px">3,203,000</text><text transform="translate(1008.3 2283.3) rotate(-90)" text-anchor="middle" style="font-family:'Liberation Serif','Times New Roman',serif;font-size:24.9px">3,300,000</text><text x="571" y="2327.8" text-anchor="middle" style="font-family:'Liberation Serif','Times New Roman',serif;font-size:24.9px">672,000</text><text x="743.8" y="2327.8" text-anchor="middle" style="font-family:'Liberation Serif','Times New Roman',serif;font-size:24.9px">676,000</text><text x="918.6" y="2327.8" text-anchor="middle" style="font-family:'Liberation Serif','Times New Roman',serif;font-size:24.9px">680,000</text><rect x="1065.5" y="1767" width="454.5" height="535.5" fill="#fff" stroke="#111" stroke-width="2"/><svg x="1066.5" y="1847" width="452.5" height="454.5" viewBox="0 0 1736 1736" preserveAspectRatio="none"><g filter="url(#ramp)"><use href="#m7"/></g><polygon points="538,282 1252,350 1192,965 478,897" fill="none" stroke="#e8040c" stroke-width="12" stroke-linejoin="miter"/><g fill="#000"><rect x="30.5" y="0" width="15" height="57"/><rect x="702.5" y="0" width="15" height="57"/><rect x="1360.5" y="0" width="15" height="57"/><rect x="30.5" y="1679" width="15" height="57"/><rect x="702.5" y="1679" width="15" height="57"/><rect x="1360.5" y="1679" width="15" height="57"/><rect x="0" y="400.5" width="57" height="15"/><rect x="0" y="957.5" width="57" height="15"/><rect x="0" y="1494.5" width="57" height="15"/><rect x="1679" y="400.5" width="57" height="15"/><rect x="1679" y="957.5" width="57" height="15"/><rect x="1679" y="1494.5" width="57" height="15"/></g></svg><rect x="1065.5" y="1767" width="454.5" height="535.5" fill="none" stroke="#111" stroke-width="2"/><text x="1211.0" y="1826.6" text-anchor="middle" stroke="#000" stroke-width="0.9" style="font-family:'Noto Serif CJK SC',serif;font-size:51.5px">⑧</text><text x="1248.3" y="1825.5" textLength="147.8" lengthAdjust="spacingAndGlyphs" style="font-family:'Liberation Serif','Times New Roman',serif;font-size:51px">Present</text><text transform="translate(1052 1962.4) rotate(-90)" text-anchor="middle" style="font-family:'Liberation Serif','Times New Roman',serif;font-size:24.9px">3,385,000</text><text transform="translate(1052 2097.7) rotate(-90)" text-anchor="middle" style="font-family:'Liberation Serif','Times New Roman',serif;font-size:24.9px">3,282,000</text><text transform="translate(1052 2238.2) rotate(-90)" text-anchor="middle" style="font-family:'Liberation Serif','Times New Roman',serif;font-size:24.9px">3,279,000</text><text x="1077.4" y="2328.8" text-anchor="middle" style="font-family:'Liberation Serif','Times New Roman',serif;font-size:24.9px">620,000</text><text x="1253.9" y="2328.8" text-anchor="middle" style="font-family:'Liberation Serif','Times New Roman',serif;font-size:24.9px">624,000</text><text x="1427.3" y="2328.8" text-anchor="middle" style="font-family:'Liberation Serif','Times New Roman',serif;font-size:24.9px">628,000</text><rect x="1541" y="1767" width="454.5" height="535.5" fill="#fff" stroke="#111" stroke-width="2"/><svg x="1542" y="1847" width="452.5" height="454.5" viewBox="0 0 1736 1736" preserveAspectRatio="none"><g filter="url(#ramp)"><use href="#m7"/><g clip-path="url(#cl33)"><use href="#m7r"/></g></g><polygon points="545,270 1262,342 1200,958 485,887" fill="none" stroke="#e8040c" stroke-width="12" stroke-linejoin="miter"/><g fill="#000"><rect x="30.5" y="0" width="15" height="57"/><rect x="702.5" y="0" width="15" height="57"/><rect x="1360.5" y="0" width="15" height="57"/><rect x="30.5" y="1679" width="15" height="57"/><rect x="702.5" y="1679" width="15" height="57"/><rect x="1360.5" y="1679" width="15" height="57"/><rect x="0" y="400.5" width="57" height="15"/><rect x="0" y="957.5" width="57" height="15"/><rect x="0" y="1494.5" width="57" height="15"/><rect x="1679" y="400.5" width="57" height="15"/><rect x="1679" y="957.5" width="57" height="15"/><rect x="1679" y="1494.5" width="57" height="15"/></g></svg><rect x="1541" y="1767" width="454.5" height="535.5" fill="none" stroke="#111" stroke-width="2"/><text x="1618.1" y="1826.6" text-anchor="middle" stroke="#000" stroke-width="0.9" style="font-family:'Noto Serif CJK SC',serif;font-size:51.5px">⑧</text><text x="1655.5" y="1825.5" textLength="284.5" lengthAdjust="spacingAndGlyphs" style="font-family:'Liberation Serif','Times New Roman',serif;font-size:51px">Reconstructed</text><text transform="translate(2023 1961) rotate(-90)" text-anchor="middle" style="font-family:'Liberation Serif','Times New Roman',serif;font-size:24.9px">3,385,000</text><text transform="translate(2023 2097.7) rotate(-90)" text-anchor="middle" style="font-family:'Liberation Serif','Times New Roman',serif;font-size:24.9px">3,282,000</text><text transform="translate(2023 2238.2) rotate(-90)" text-anchor="middle" style="font-family:'Liberation Serif','Times New Roman',serif;font-size:24.9px">3,279,000</text><text x="1552.8" y="2328.8" text-anchor="middle" style="font-family:'Liberation Serif','Times New Roman',serif;font-size:24.9px">620,000</text><text x="1729.1" y="2328.8" text-anchor="middle" style="font-family:'Liberation Serif','Times New Roman',serif;font-size:24.9px">624,000</text><text x="1902" y="2328.8" text-anchor="middle" style="font-family:'Liberation Serif','Times New Roman',serif;font-size:24.9px">628,000</text><text x="80.5" y="2383.6" text-anchor="middle" transform="translate(80.5 0) scale(1.15 1) translate(-80.5 0)" style="font-family:'Liberation Sans',sans-serif;font-weight:bold;font-size:31px">N</text><polygon points="79.6,2392 48.1,2471.9 79.6,2442.8" fill="#111"/><polygon points="79.6,2392 110.3,2471.9 79.6,2442.8" fill="#fff" stroke="#111" stroke-width="3" stroke-linejoin="miter"/><polygon points="79.6,2392 48.1,2471.9 79.6,2442.8" fill="#111" stroke="#111" stroke-width="1.5"/><text x="170" y="2376.5" textLength="198" lengthAdjust="spacingAndGlyphs" style="font-family:'Liberation Serif','Times New Roman',serif;font-weight:bold;font-size:31px">Elevation(m)</text><linearGradient id="lg" x1="0" y1="0" x2="0" y2="1"><stop offset="0" stop-color="#c3412f"/><stop offset="0.2" stop-color="#dc6c55"/><stop offset="0.35" stop-color="#e98d6c"/><stop offset="0.45" stop-color="#f5c08f"/><stop offset="0.49" stop-color="#f1efb5"/><stop offset="0.62" stop-color="#d0d3aa"/><stop offset="0.72" stop-color="#b0b4ab"/><stop offset="0.85" stop-color="#8590a3"/><stop offset="1" stop-color="#5e6d9b"/></linearGradient><rect x="168.5" y="2396" width="76.5" height="80" fill="url(#lg)"/><line x1="245" y1="2396.5" x2="252" y2="2396.5" stroke="#999" stroke-width="1"/><line x1="245" y1="2435" x2="252" y2="2435" stroke="#999" stroke-width="1"/><line x1="245" y1="2475.5" x2="252" y2="2475.5" stroke="#999" stroke-width="1"/><text x="268.3" y="2406.5" textLength="168" lengthAdjust="spacingAndGlyphs" style="font-family:'Liberation Serif','Times New Roman',serif;font-size:27.5px">High : 1040.04</text><text x="268.3" y="2486.4" textLength="163" lengthAdjust="spacingAndGlyphs" style="font-family:'Liberation Serif','Times New Roman',serif;font-size:27.5px">Low : 159.455</text><rect x="493.5" y="2401" width="142.8" height="67.2" fill="none" stroke="#e1262c" stroke-width="3"/><text x="662.7" y="2446.9" textLength="215" lengthAdjust="spacingAndGlyphs" style="font-family:'Liberation Serif','Times New Roman',serif;font-size:43.5px">Canyon area</text><rect x="927.6" y="2434.4" width="280.4" height="24" fill="#111"/><rect x="1001" y="2438.9" width="65.3" height="15.9" fill="#fff"/><text x="929.7" y="2418.5" text-anchor="middle" style="font-family:'Liberation Serif','Times New Roman',serif;font-size:37px">0</text><text x="999.8" y="2418.5" text-anchor="middle" style="font-family:'Liberation Serif','Times New Roman',serif;font-size:37px">1.5</text><text x="1067" y="2418.5" text-anchor="middle" style="font-family:'Liberation Serif','Times New Roman',serif;font-size:37px">3</text><text x="1205.9" y="2418.5" text-anchor="middle" style="font-family:'Liberation Serif','Times New Roman',serif;font-size:37px">6</text><text x="1217.6" y="2456.9" textLength="178" lengthAdjust="spacingAndGlyphs" style="font-family:'Liberation Serif','Times New Roman',serif;font-size:39.5px">Kilometers</text></svg></body></html>
